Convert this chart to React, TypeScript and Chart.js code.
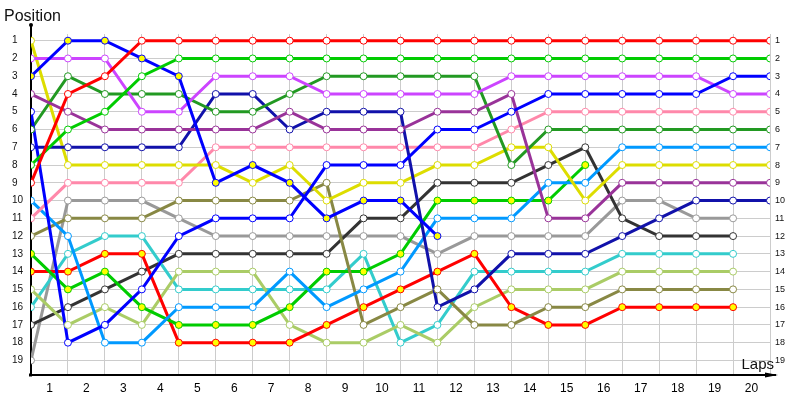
import { useEffect, useRef } from "react";
import { Chart, registerables } from "chart.js";
Chart.register(...registerables);

const laps = [0, 1, 2, 3, 4, 5, 6, 7, 8, 9, 10, 11, 12, 13, 14, 15, 16, 17, 18, 19, 20];
const lapTickLabels = ["1", "2", "3", "4", "5", "6", "7", "8", "9", "10", "11", "12", "13", "14", "15", "16", "17", "18", "19", "20"];
const positionTicks = [1, 2, 3, 4, 5, 6, 7, 8, 9, 10, 11, 12, 13, 14, 15, 16, 17, 18, 19];

// positions per lap (lap 0 = start)
const redA = [9, 4, 3, 1, 1, 1, 1, 1, 1, 1, 1, 1, 1, 1, 1, 1, 1, 1, 1, 1, 1];
const limeB = [8, 6, 5, 3, 2, 2, 2, 2, 2, 2, 2, 2, 2, 2, 2, 2, 2, 2, 2, 2, 2];
const blueC = [3, 1, 1, 2, 3, 9, 8, 9, 11, 10, 10, 12];
const blueD = [5, 18, 17, 15, 12, 11, 11, 11, 8, 8, 8, 6, 6, 5, 4, 4, 4, 4, 4, 3, 3];
const magentaE = [2, 2, 2, 5, 5, 3, 3, 3, 4, 4, 4, 4, 4, 3, 3, 3, 3, 3, 3, 4, 4];
const purpleF = [4, 5, 6, 6, 6, 6, 6, 5, 6, 6, 6, 5, 5, 4, 11, 11, 9, 9, 9, 9, 9];
const darkGreenG = [6, 3, 4, 4, 4, 5, 5, 4, 3, 3, 3, 3, 3, 8, 6, 6, 6, 6, 6, 6, 6];
const navyH = [7, 7, 7, 7, 7, 4, 4, 6, 5, 5, 5, 16, 15, 13, 13, 13, 12, 11, 10, 10, 10];
const yellowI = [1, 8, 8, 8, 8, 8, 9, 8, 10, 9, 9, 8, 8, 7, 7, 10, 8, 8, 8, 8, 8];
const pinkJ = [11, 9, 9, 9, 9, 7, 7, 7, 7, 7, 7, 7, 7, 6, 5, 5, 5, 5, 5, 5, 5];
const lightBlueK = [10, 12, 18, 18, 16, 16, 16, 14, 16, 15, 14, 11, 11, 11, 9, 9, 7, 7, 7, 7, 7];
const oliveL = [12, 11, 11, 11, 10, 10, 10, 10, 9, 17, 16, 15, 17, 17, 16, 16, 15, 15, 15, 15];
const limeM = [13, 15, 14, 16, 17, 17, 17, 16, 14, 14, 13, 10, 10, 10, 10, 8];
const redN = [14, 14, 13, 13, 18, 18, 18, 18, 17, 16, 15, 14, 13, 16, 17, 17, 16, 16, 16, 16];
const lightOliveO = [15, 17, 16, 17, 14, 14, 14, 17, 18, 18, 17, 18, 16, 15, 15, 15, 14, 14, 14, 14];
const cyanP = [16, 13, 12, 12, 15, 15, 15, 15, 15, 13, 18, 17, 14, 14, 14, 14, 13, 13, 13, 13];
const darkGreyQ = [17, 16, 15, 14, 13, 13, 13, 13, 13, 11, 11, 9, 9, 9, 8, 7, 11, 12, 12, 12];
const greyR = [19, 10, 10, 10, 11, 12, 12, 12, 12, 12, 12, 13, 12, 12, 12, 12, 10, 10, 11, 11];

const seriesList = [
  { data: redA, color: "#ff0000", second: false },
  { data: limeB, color: "#00cc00", second: false },
  { data: blueC, color: "#0000ff", second: true },
  { data: blueD, color: "#0000ff", second: false },
  { data: magentaE, color: "#cc44ff", second: false },
  { data: purpleF, color: "#993399", second: false },
  { data: darkGreenG, color: "#229922", second: false },
  { data: navyH, color: "#1111aa", second: false },
  { data: yellowI, color: "#dddd00", second: false },
  { data: pinkJ, color: "#ff88aa", second: false },
  { data: lightBlueK, color: "#0099ff", second: false },
  { data: oliveL, color: "#888844", second: false },
  { data: limeM, color: "#00cc00", second: true },
  { data: redN, color: "#ff0000", second: true },
  { data: lightOliveO, color: "#aacc66", second: false },
  { data: cyanP, color: "#33cccc", second: false },
  { data: darkGreyQ, color: "#333333", second: false },
  { data: greyR, color: "#999999", second: false },
];

const decorPlugin = {
  id: "decor",
  afterDraw(chart: any) {
    const { ctx, chartArea } = chart;
    const { left, right, top, bottom } = chartArea;
    ctx.save();
    ctx.strokeStyle = "#000";
    ctx.fillStyle = "#000";
    ctx.lineWidth = 2;
    // y axis extension
    ctx.beginPath();
    ctx.moveTo(left, top);
    ctx.lineTo(left, top - 9);
    ctx.stroke();
    ctx.beginPath();
    ctx.arc(left, top - 9, 2, 0, Math.PI * 2);
    ctx.fill();
    // x axis extension + arrow
    ctx.beginPath();
    ctx.moveTo(right, bottom);
    ctx.lineTo(right + 6, bottom);
    ctx.stroke();
    ctx.beginPath();
    ctx.moveTo(right + 8, bottom);
    ctx.lineTo(right - 5, bottom - 2.5);
    ctx.lineTo(right - 5, bottom + 2.5);
    ctx.closePath();
    ctx.fill();
    ctx.fillRect(left - 2, bottom - 1.5, 3, 3);
    // titles
    ctx.font = "16px 'Liberation Sans', Arial, sans-serif";
    ctx.textAlign = "left";
    ctx.textBaseline = "alphabetic";
    ctx.fillStyle = "#111";
    ctx.fillText("Position", 4, 21);
    ctx.font = "15px 'Liberation Sans', Arial, sans-serif";
    ctx.textAlign = "right";
    ctx.fillText("Laps", right + 4, bottom - 6);
    ctx.restore();
  },
};

export default function App() {
  const ref = useRef<HTMLCanvasElement>(null);
  useEffect(() => {
    if (!ref.current) return;
    Chart.defaults.font.family = "'Liberation Sans', Arial, sans-serif";
    const lineSets = seriesList.map((s) => ({
      data: s.data.map((p, i) => ({ x: laps[i], y: p })),
      borderColor: s.color,
      borderWidth: 3,
      pointRadius: 0,
      fill: false,
      tension: 0,
      order: 2,
    }));
    const pointSets = seriesList.map((s) => ({
      data: s.data.map((p, i) => ({ x: laps[i], y: p })),
      showLine: false,
      borderColor: s.color,
      pointRadius: 3.5,
      pointBorderWidth: 1,
      pointBorderColor: s.color,
      pointBackgroundColor: s.second ? "#ffff00" : "#ffffff",
      order: 1,
    }));
    const chart = new Chart(ref.current, {
      type: "line",
      data: { datasets: [...lineSets, ...pointSets] as any },
      options: {
        animation: false,
        responsive: false,
        maintainAspectRatio: false,
        layout: { padding: { top: 34, left: 12, right: 0, bottom: 0 } },
        plugins: { legend: { display: false }, tooltip: { enabled: false }, title: { display: false } },
        scales: {
          x: {
            type: "linear",
            min: 0,
            max: 20,
            position: "bottom",
            weight: 0,
            afterBuildTicks: (ax: any) => {
              ax.ticks = laps.map((v) => ({ value: v }));
            },
            ticks: { display: false },
            grid: { color: "#cccccc", drawTicks: false, lineWidth: 1 },
            border: { color: "#000", width: 2 },
            afterFit: (ax: any) => {
              ax.height = 0;
            },
          },
          x2: {
            type: "linear",
            min: 0,
            max: 20,
            position: "bottom",
            weight: 1,
            afterBuildTicks: (ax: any) => {
              ax.ticks = lapTickLabels.map((_, i) => ({ value: laps[i] + 0.5 }));
            },
            ticks: {
              callback: (_v: any, i: number) => lapTickLabels[i],
              font: { size: 12 },
              color: "#000",
              padding: 6,
              maxRotation: 0,
              autoSkip: false,
            },
            grid: { display: false, drawTicks: false },
            border: { display: false },
            afterFit: (ax: any) => {
              ax.height = 25;
            },
          },
          y: {
            type: "linear",
            reverse: true,
            min: 0.623,
            max: 19.82,
            position: "left",
            afterBuildTicks: (ax: any) => {
              ax.ticks = positionTicks.map((v) => ({ value: v }));
            },
            ticks: {
              callback: (v: any) => String(v),
              font: { size: 10 },
              color: "#111",
              crossAlign: "far",
              padding: 0,
              autoSkip: false,
            },
            grid: { color: "#cccccc", drawTicks: false, lineWidth: 1 },
            border: { color: "#000", width: 2 },
            afterFit: (ax: any) => {
              ax.width = 19;
            },
          },
          y2: {
            type: "linear",
            reverse: true,
            min: 0.623,
            max: 19.82,
            position: "right",
            afterBuildTicks: (ax: any) => {
              ax.ticks = positionTicks.map((v) => ({ value: v }));
            },
            ticks: {
              callback: (v: any) => String(v),
              font: { size: 9 },
              color: "#111",
              padding: 5,
              autoSkip: false,
            },
            grid: { display: false, drawTicks: false },
            border: { display: false },
            afterFit: (ax: any) => {
              ax.width = 30;
            },
          },
        },
      } as any,
      plugins: [decorPlugin],
    });
    return () => chart.destroy();
  }, []);
  return (
    <div style={{ position: "absolute", left: 0, top: 0, width: 800, height: 400, background: "#fff" }}>
      <canvas ref={ref} width={800} height={400} style={{ display: "block" }} />
    </div>
  );
}
